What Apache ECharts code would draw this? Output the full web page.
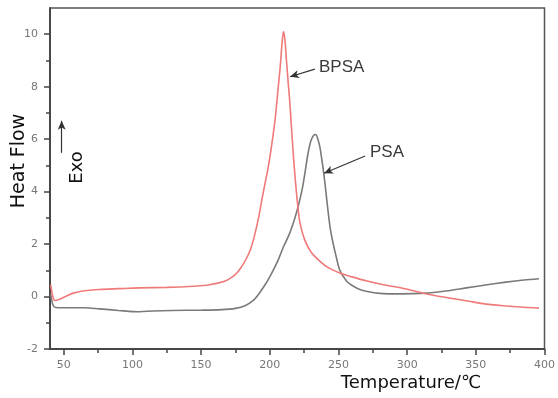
<!DOCTYPE html>
<html>
<head>
<meta charset="utf-8">
<script src="https://cdn.jsdelivr.net/npm/echarts@6/dist/echarts.min.js"></script>
<style>
  html, body { margin: 0; padding: 0; background: #fff; }
  #chart { width: 558px; height: 398px; }
</style>
</head>
<body>
<div id="chart"></div>
<script>
// DSC curves (temperature in C, heat flow)
const bpsaTemp = [40.5, 42, 43.5, 47, 52, 57, 65, 76, 90, 105, 125, 141, 155, 163, 168, 172, 176, 179, 183, 186, 189, 192, 195, 199, 202, 204, 206, 207.5, 209, 210, 211, 212, 213.5, 214.6, 217, 219, 220.5, 222, 225.5, 230, 235, 242, 251, 260, 270, 282, 300, 314, 330, 345, 355, 370, 385, 396];
const bpsaHeat = [0.45, 0.0, -0.15, -0.1, 0.02, 0.13, 0.22, 0.27, 0.3, 0.33, 0.35, 0.38, 0.44, 0.52, 0.6, 0.72, 0.9, 1.1, 1.45, 1.8, 2.35, 3.05, 3.9, 4.97, 6.0, 6.8, 7.9, 8.7, 9.7, 10.1, 9.8, 9.1, 8.1, 7.4, 5.5, 4.2, 3.4, 2.8, 2.15, 1.7, 1.42, 1.12, 0.9, 0.75, 0.6, 0.46, 0.28, 0.1, -0.05, -0.18, -0.27, -0.35, -0.41, -0.44];

const psaTemp = [40.5, 42, 44, 50, 65, 76, 90, 105, 115, 129, 150, 165, 175, 182, 188, 192, 196, 200, 206, 210, 214, 218, 221, 224, 226, 228, 230, 232, 233.5, 235, 236.5, 238.5, 240, 242, 244, 246, 248, 251, 256, 260, 265, 271, 280, 295, 314, 330, 343, 357, 372, 385, 396];
const psaHeat = [0.1, -0.3, -0.42, -0.43, -0.43, -0.47, -0.53, -0.58, -0.55, -0.53, -0.52, -0.5, -0.45, -0.35, -0.15, 0.1, 0.4, 0.75, 1.38, 1.9, 2.35, 2.95, 3.5, 4.2, 4.85, 5.5, 5.95, 6.15, 6.18, 6.0, 5.7, 5.0, 4.4, 3.45, 2.6, 2.05, 1.6, 1.0, 0.58, 0.42, 0.28, 0.19, 0.12, 0.1, 0.13, 0.22, 0.33, 0.44, 0.55, 0.63, 0.68];

const xTicks = [50, 100, 150, 200, 250, 300, 350, 400];
const xMinorTicks = [75, 125, 175, 225, 275, 325, 375];
const yTicks = [-2, 0, 2, 4, 6, 8, 10];
const yMinorTicks = [-1, 1, 3, 5, 7, 9];

// annotation arrows, in data coordinates: [from, to]
const bpsaArrow = [[232.8, 8.67], [214.7, 8.38]];
const psaArrow = [[269.4, 5.36], [239.5, 4.7]];
const exoArrow = [[48.5, 5.48], [48.5, 6.7]];

const zip = (xs, ys) => xs.map((x, i) => [x, ys[i]]);
const arrowLine = (a) => [{ coord: a[0] }, { coord: a[1] }];

const axisColor = "#444";
const labelColor = "#777";

const chart = echarts.init(document.getElementById("chart"));
chart.setOption({
  animation: false,
  backgroundColor: "#fff",
  grid: {
    left: 50, right: 10, top: 8, bottom: 49,
    show: true, borderColor: "#555", borderWidth: 1.5, backgroundColor: "transparent",
  },
  xAxis: [
    {
      type: "value", min: 40, max: 400, position: "bottom",
      axisLine: { onZero: false, lineStyle: { color: axisColor, width: 1.5 } },
      axisTick: { show: true, customValues: xTicks, length: 6, lineStyle: { color: axisColor, width: 1.5 } },
      axisLabel: { customValues: xTicks, color: labelColor, fontSize: 11, fontFamily: "DejaVu Sans", margin: 11 },
      splitLine: { show: false },
    },
    {
      type: "value", min: 40, max: 400, position: "bottom", offset: 0,
      axisLine: { show: true, onZero: false, lineStyle: { color: axisColor, width: 1.5 } },
      axisTick: { show: true, customValues: xMinorTicks, length: 4, lineStyle: { color: axisColor, width: 1.5 } },
      axisLabel: { show: false },
      splitLine: { show: false },
    },
  ],
  yAxis: [
    {
      type: "value", min: -2, max: 11, position: "left",
      axisLine: { show: true, onZero: false, lineStyle: { color: axisColor, width: 1.5 } },
      axisTick: { show: true, customValues: yTicks, length: 6, lineStyle: { color: axisColor, width: 1.5 } },
      axisLabel: { customValues: yTicks, color: labelColor, fontSize: 11, fontFamily: "DejaVu Sans", margin: 12 },
      splitLine: { show: false },
    },
    {
      type: "value", min: -2, max: 11, position: "left", offset: 0,
      axisLine: { show: true, onZero: false, lineStyle: { color: axisColor, width: 1.5 } },
      axisTick: { show: true, customValues: yMinorTicks, length: 4, lineStyle: { color: axisColor, width: 1.5 } },
      axisLabel: { show: false },
      splitLine: { show: false },
    },
  ],
  series: [
    {
      name: "PSA",
      type: "line",
      data: zip(psaTemp, psaHeat),
      showSymbol: false,
      smooth: 0.3,
      lineStyle: { color: "#7a7a7a", width: 1.6 },
      markLine: {
        silent: true,
        symbol: ["none", "arrow"],
        symbolSize: [6, 9],
        label: { show: false },
        lineStyle: { color: "#333", width: 1.2, type: "solid" },
        data: [arrowLine(psaArrow), arrowLine(bpsaArrow), arrowLine(exoArrow)],
      },
    },
    {
      name: "BPSA",
      type: "line",
      data: zip(bpsaTemp, bpsaHeat),
      showSymbol: false,
      smooth: 0.3,
      lineStyle: { color: "#f07a7a", width: 1.6 },
    },
  ],
  graphic: [
    { type: "text", left: 319, top: 59, style: { text: "BPSA", fill: "#3a3a3a", font: "17px 'Liberation Sans'" } },
    { type: "text", left: 370, top: 144, style: { text: "PSA", fill: "#3a3a3a", font: "17px 'Liberation Sans'" } },
    {
      type: "text", x: 19, y: 161, rotation: Math.PI / 2,
      style: { text: "Heat Flow", fill: "#111", font: "19px 'DejaVu Sans'", align: "center", verticalAlign: "middle" },
    },
    {
      type: "text", x: 77.5, y: 167.5, rotation: Math.PI / 2,
      style: { text: "Exo", fill: "#111", font: "18px 'DejaVu Sans'", align: "center", verticalAlign: "middle" },
    },
    {
      type: "text", x: 411, y: 383,
      style: { text: "Temperature/℃", fill: "#111", font: "18px 'DejaVu Sans'", align: "center", verticalAlign: "middle" },
    },
  ],
});
</script>
</body>
</html>
